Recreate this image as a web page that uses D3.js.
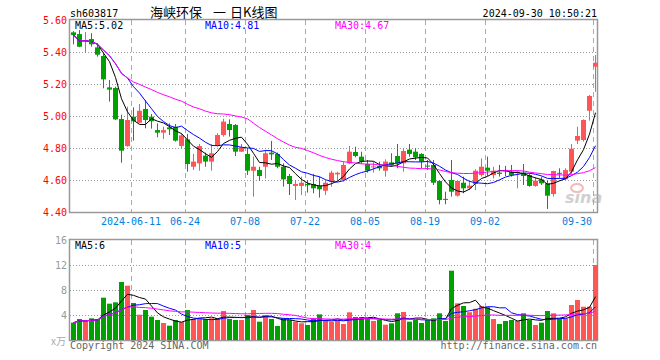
<!DOCTYPE html>
<html>
<head>
<meta charset="utf-8">
<script src="https://cdn.jsdelivr.net/npm/d3@7/dist/d3.min.js"></script>
<style>
  body { margin: 0; background: #fff; }
  text { font-family: "DejaVu Sans Mono", "Liberation Mono", monospace; font-size: 10px; }
</style>
</head>
<body>
<script>
// trading days shown
const dates = [
  "2024-05-27","2024-05-28","2024-05-29","2024-05-30","2024-05-31",
  "2024-06-03","2024-06-04","2024-06-05","2024-06-06","2024-06-07","2024-06-11","2024-06-12","2024-06-13","2024-06-14",
  "2024-06-17","2024-06-18","2024-06-19","2024-06-20","2024-06-21","2024-06-24","2024-06-25","2024-06-26","2024-06-27","2024-06-28",
  "2024-07-01","2024-07-02","2024-07-03","2024-07-04","2024-07-05","2024-07-08","2024-07-09","2024-07-10","2024-07-11","2024-07-12",
  "2024-07-15","2024-07-16","2024-07-17","2024-07-18","2024-07-19","2024-07-22","2024-07-23","2024-07-24","2024-07-25","2024-07-26",
  "2024-07-29","2024-07-30","2024-07-31","2024-08-01","2024-08-02","2024-08-05","2024-08-06","2024-08-07","2024-08-08","2024-08-09",
  "2024-08-12","2024-08-13","2024-08-14","2024-08-15","2024-08-16","2024-08-19","2024-08-20","2024-08-21","2024-08-22","2024-08-23",
  "2024-08-26","2024-08-27","2024-08-28","2024-08-29","2024-08-30","2024-09-02","2024-09-03","2024-09-04","2024-09-05","2024-09-06",
  "2024-09-09","2024-09-10","2024-09-11","2024-09-12","2024-09-13","2024-09-18","2024-09-19","2024-09-20",
  "2024-09-23","2024-09-24","2024-09-25","2024-09-26","2024-09-27","2024-09-30"];

const opens = [5.523,5.512,5.468,5.481,5.429,5.375,5.179,5.175,4.981,4.812,
  4.996,4.958,5.044,4.996,4.912,4.896,4.929,4.933,4.813,4.854,
  4.683,4.704,4.752,4.715,4.813,4.881,4.950,4.944,4.777,4.763,
  4.658,4.663,4.683,4.771,4.763,4.683,4.625,4.563,4.563,4.575,
  4.575,4.563,4.533,4.589,4.635,4.600,4.704,4.775,4.746,4.700,
  4.679,4.688,4.658,4.710,4.750,4.704,4.790,4.777,4.763,4.690,
  4.694,4.594,4.482,4.600,4.502,4.583,4.548,4.575,4.631,4.677,
  4.631,4.646,4.660,4.652,4.642,4.646,4.631,4.563,4.604,4.579,
  4.512,4.645,4.604,4.652,4.846,4.850,5.033,5.308];
const highs = [5.530,5.537,5.525,5.517,5.454,5.392,5.225,5.183,5.008,5.058,
  5.054,5.075,5.100,5.012,4.954,4.933,4.954,4.950,4.892,4.888,
  4.763,4.825,4.771,4.825,4.892,4.983,4.979,4.950,4.825,4.798,
  4.746,4.683,4.788,4.844,4.771,4.704,4.638,4.600,4.621,4.600,
  4.638,4.621,4.596,4.658,4.652,4.715,4.813,4.808,4.777,4.725,
  4.715,4.715,4.729,4.767,4.825,4.798,4.825,4.798,4.767,4.725,
  4.725,4.600,4.527,4.725,4.600,4.621,4.594,4.667,4.735,4.746,
  4.683,4.694,4.688,4.694,4.660,4.700,4.642,4.617,4.621,4.596,
  4.658,4.673,4.673,4.825,4.933,4.979,5.131,5.381];
const lows = [5.448,5.430,5.393,5.433,5.371,5.173,5.090,4.975,4.708,4.808,
  4.846,4.954,4.923,4.921,4.867,4.856,4.881,4.840,4.798,4.652,
  4.663,4.658,4.683,4.658,4.808,4.871,4.871,4.750,4.775,4.631,
  4.496,4.594,4.610,4.725,4.673,4.558,4.506,4.475,4.506,4.521,
  4.517,4.490,4.506,4.558,4.594,4.590,4.700,4.742,4.700,4.646,
  4.646,4.658,4.621,4.683,4.673,4.652,4.746,4.725,4.673,4.663,
  4.569,4.448,4.448,4.496,4.496,4.517,4.537,4.537,4.621,4.625,
  4.610,4.621,4.625,4.621,4.548,4.569,4.558,4.558,4.569,4.419,
  4.496,4.610,4.600,4.637,4.825,4.840,4.971,5.152];
const closes = [5.506,5.433,5.472,5.448,5.383,5.229,5.165,4.979,4.783,4.975,
  4.967,5.033,4.975,4.967,4.896,4.912,4.917,4.846,4.879,4.700,
  4.715,4.812,4.715,4.767,4.881,4.965,4.912,4.777,4.804,4.658,
  4.683,4.625,4.767,4.760,4.683,4.604,4.575,4.575,4.583,4.567,
  4.548,4.542,4.583,4.646,4.645,4.694,4.777,4.750,4.715,4.658,
  4.685,4.673,4.715,4.694,4.704,4.781,4.763,4.742,4.715,4.687,
  4.583,4.475,4.479,4.527,4.594,4.548,4.565,4.658,4.683,4.658,
  4.658,4.638,4.655,4.631,4.652,4.625,4.563,4.596,4.579,4.502,
  4.656,4.640,4.662,4.796,4.875,4.975,5.125,5.333];
// volume, x10k lots
const volumes = [2.77,3.36,3.04,3.47,3.36,6.77,5.81,6.03,9.28,8.69,
  5.92,4.05,4.80,3.73,3.20,2.72,2.29,3.20,2.88,4.80,
  3.36,3.36,3.36,3.47,3.47,4.64,3.36,3.20,3.20,4.00,
  4.80,2.93,4.00,3.36,2.24,3.47,3.20,2.93,2.67,2.40,
  3.47,4.10,3.20,2.93,3.20,2.56,4.43,3.68,3.68,3.36,
  3.04,3.20,2.45,2.67,4.27,4.48,2.93,3.20,2.72,3.20,
  3.47,4.27,3.04,11.09,5.87,5.44,4.45,5.00,5.44,5.23,
  3.36,2.56,3.04,3.20,3.04,4.27,3.20,2.40,2.77,4.64,
  4.27,3.36,3.47,5.60,6.40,5.33,5.33,12.00];

const tickDates  = ["2024-06-11","2024-06-24","2024-07-08","2024-07-22","2024-08-05","2024-08-19","2024-09-02","2024-09-30"];
const tickLabels = ["2024-06-11","06-24","07-08","07-22","08-05","08-19","09-02","09-30"];
const priceTicks = [5.60, 5.40, 5.20, 5.00, 4.80, 4.60, 4.40];
const volTicks   = [16, 12, 8, 4];
const priceMaLabels = ["MA5:5.02", "MA10:4.81", "MA30:4.67"];
const volMaLabels   = ["MA5:6", "MA10:5", "MA30:4"];
const maPeriods = [5, 10, 30];
const titleParts = ["海峡环保", "一", "日K线图"];

const maColors = ["#000000", "#0000ff", "#ff00ff"];
const up = "#ff5555", down = "#00a000";
const left = 70, right = 597;
const pTop = 20, pBottom = 212, vTop = 240, vBottom = 340;

const svg = d3.select("body").append("svg")
  .attr("width", 660)
  .attr("height", 360);

// scales
const x = d3.scaleBand().domain(dates).range([69.9, 597.9]).paddingInner(0.2).paddingOuter(0.1);
const y = d3.scaleLinear().domain([4.4, 5.6]).range([pBottom, pTop]);
const yv = d3.scaleLinear().domain([0, 16]).range([vBottom, vTop]);
const bx = d => Math.round(x(d));

const movingAvg = (arr, n) => arr.map((_, i) => d3.mean(arr.slice(Math.max(0, i - n + 1), i + 1)));

const data = dates.map((d, i) => ({
  date: d, o: opens[i], h: highs[i], l: lows[i], c: closes[i], v: volumes[i],
  up: closes[i] >= opens[i]
}));

// grid: horizontal dotted
svg.append("g").selectAll("line")
  .data(priceTicks.slice(1, -1))
  .enter().append("line")
  .attr("x1", left).attr("x2", right)
  .attr("y1", d => Math.round(y(d)) + 0.5).attr("y2", d => Math.round(y(d)) + 0.5)
  .attr("stroke", "#999").attr("stroke-dasharray", "1,2");

svg.append("g").selectAll("line")
  .data(volTicks.slice(1))
  .enter().append("line")
  .attr("x1", left).attr("x2", right)
  .attr("y1", d => Math.round(yv(d)) + 0.5).attr("y2", d => Math.round(yv(d)) + 0.5)
  .attr("stroke", "#999").attr("stroke-dasharray", "1,2");

// grid: vertical dashed at date ticks
[[pTop, pBottom], [vTop, vBottom]].forEach(([a, b]) => {
  svg.append("g").selectAll("line")
    .data(tickDates)
    .enter().append("line")
    .attr("x1", d => bx(d) + 0.5).attr("x2", d => bx(d) + 0.5)
    .attr("y1", a).attr("y2", b)
    .attr("stroke", "#aaa").attr("stroke-dasharray", "5,4");
});

// frames
[[pTop, pBottom], [vTop, vBottom]].forEach(([a, b]) => {
  svg.append("rect")
    .attr("x", left - 0.5).attr("y", a - 0.5)
    .attr("width", right - left + 1).attr("height", b - a + 1)
    .attr("fill", "none").attr("stroke", "#999").attr("stroke-width", 1.5);
});

// sina watermark
const wm = svg.append("g").attr("transform", "translate(565,183)").attr("opacity", 0.55);
wm.append("ellipse").attr("cx", 12).attr("cy", 5).attr("rx", 6).attr("ry", 4)
  .attr("fill", "none").attr("stroke", "#f08080").attr("stroke-width", 2);
wm.append("text").attr("x", 0).attr("y", 20)
  .style("font-family", "DejaVu Sans").style("font-size", "16px")
  .style("font-style", "italic").style("font-weight", "bold")
  .attr("fill", "#aaa").text("sina");

// candles
const candles = svg.append("g").selectAll("g")
  .data(data)
  .enter().append("g");

candles.append("line")
  .attr("x1", d => bx(d.date) + 2.5).attr("x2", d => bx(d.date) + 2.5)
  .attr("y1", d => y(d.h)).attr("y2", d => y(d.l))
  .attr("stroke", d => d.up ? up : down);

candles.append("rect")
  .attr("x", d => bx(d.date))
  .attr("y", d => y(Math.max(d.o, d.c)))
  .attr("width", 5)
  .attr("height", d => Math.max(1, Math.abs(y(d.o) - y(d.c))))
  .attr("fill", d => d.up ? up : down);

// volume bars
svg.append("g").selectAll("rect")
  .data(data)
  .enter().append("rect")
  .attr("x", d => bx(d.date))
  .attr("y", d => yv(d.v))
  .attr("width", 5)
  .attr("height", d => vBottom - yv(d.v))
  .attr("fill", d => d.up ? up : down);

// moving averages
const priceLine = d3.line().x((d, i) => bx(dates[i]) + 2.5).y(d => y(d));
const volLine = d3.line().x((d, i) => bx(dates[i]) + 2.5).y(d => yv(d));
maPeriods.forEach((n, k) => {
  svg.append("path")
    .attr("d", priceLine(movingAvg(closes, n)))
    .attr("fill", "none").attr("stroke", maColors[k]).attr("stroke-width", 1);
  svg.append("path")
    .attr("d", volLine(movingAvg(volumes, n)))
    .attr("fill", "none").attr("stroke", maColors[k]).attr("stroke-width", 1);
});

// MA labels
const labelX = [75, 205, 335];
priceMaLabels.forEach((t, k) => {
  svg.append("text").attr("x", labelX[k]).attr("y", 29).attr("fill", maColors[k]).text(t);
});
volMaLabels.forEach((t, k) => {
  svg.append("text").attr("x", labelX[k]).attr("y", 249).attr("fill", maColors[k]).text(t);
});

// y axis labels
svg.append("g").selectAll("text")
  .data(priceTicks)
  .enter().append("text")
  .attr("x", 67).attr("y", d => y(d) + 4)
  .attr("text-anchor", "end").attr("fill", "#ff0000")
  .text(d => d.toFixed(2));

svg.append("g").selectAll("text")
  .data(volTicks)
  .enter().append("text")
  .attr("x", 67).attr("y", d => yv(d) + 4)
  .attr("text-anchor", "end").attr("fill", "#999")
  .text(d => d);

svg.append("text")
  .attr("x", 66).attr("y", 345)
  .attr("text-anchor", "end").attr("fill", "#aaa")
  .style("font-family", "Noto Sans CJK SC").style("font-size", "10px")
  .text("x万");

// x axis labels
svg.append("g").selectAll("text")
  .data(tickDates)
  .enter().append("text")
  .attr("x", (d, i) => Math.min(bx(d), right - 5 - tickLabels[i].length * 3))
  .attr("y", 225)
  .attr("text-anchor", "middle").attr("fill", "#0080e0")
  .text((d, i) => tickLabels[i]);

// header and footer
svg.append("text").attr("x", 70).attr("y", 17).attr("fill", "#000").text("sh603817");
const titleX = [150, 213, 230];
titleParts.forEach((t, k) => {
  svg.append("text").attr("x", titleX[k]).attr("y", 17)
    .style("font-family", "Noto Sans CJK SC").style("font-size", "13px")
    .text(t);
});
svg.append("text").attr("x", right).attr("y", 17).attr("text-anchor", "end").text("2024-09-30 10:50:21");
svg.append("text").attr("x", 70).attr("y", 349).attr("fill", "#666").text("Copyright 2024 SINA.COM");
svg.append("text").attr("x", right).attr("y", 349).attr("text-anchor", "end").attr("fill", "#666").text("http://finance.sina.com.cn");
</script>
</body>
</html>
